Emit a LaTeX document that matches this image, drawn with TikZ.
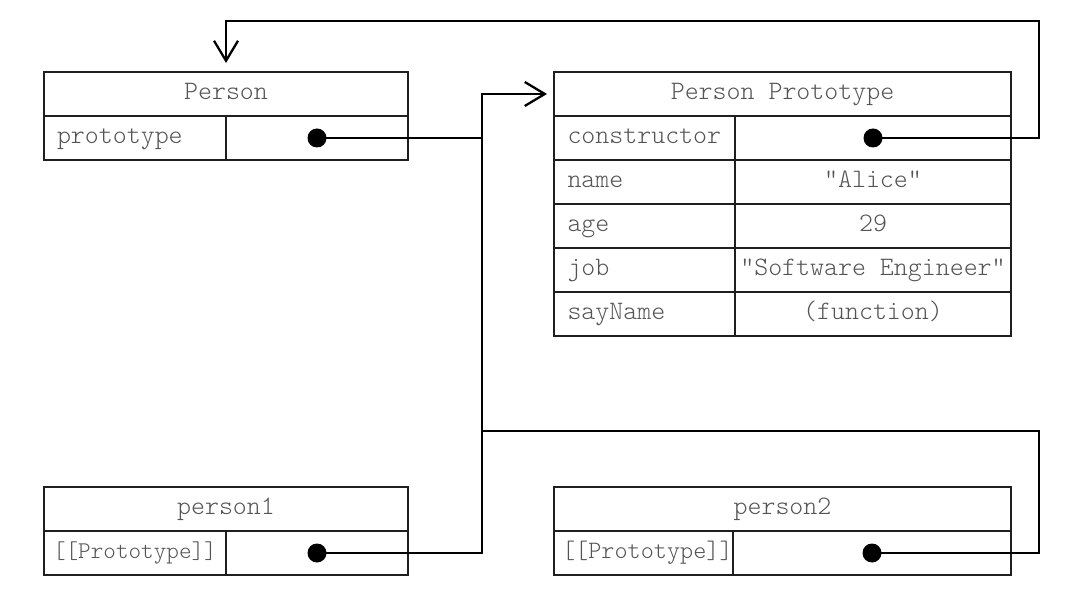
\documentclass[tikz,border=0pt]{standalone}
\usepackage{fontspec}
\newfontfamily\cellfont{Latin Modern Mono Light}
\usetikzlibrary{arrows.meta}
\definecolor{txt}{rgb}{0.33,0.33,0.33}
\definecolor{boxline}{rgb}{0.12,0.12,0.12}
\begin{document}
\begin{tikzpicture}[x=0.5pt,y=-0.5pt,
  cell/.style={draw=boxline, line width=0.65pt, minimum height=22pt, inner sep=0pt, outer sep=0pt,
    font=\cellfont\fontsize{13.3}{14}\selectfont, text=txt, text height=8pt, text depth=2.5pt},
  keycell/.style={cell, align=left, inner xsep=#1},
  smallkey/.style={font=\cellfont\fontsize{#1}{14}\selectfont},
  conn/.style={draw=black, line width=1.15pt, line join=miter},
  tip/.style={-{Straight Barb[length=10pt,width=12pt]}},
  dot/.style={fill=black}
]
\useasboundingbox (0,0) rectangle (1081,598);

% Person
\node[cell, minimum width=182pt] (ph) at (226,94) {Person};
\node[keycell=6.5pt, text width=78pt] (pk) at (135,138) {prototype};
\node[cell, minimum width=91pt] (pv) at (317,138) {};

% Person Prototype
\node[cell, minimum width=228.5pt] (prh) at (782.5,94) {Person Prototype};
\node[keycell=6.75pt, text width=77pt] (k1) at (644.5,138) {constructor};
\node[cell, minimum width=138pt] (cv) at (873,138) {};
\node[keycell=6.75pt, text width=77pt] (k2) at (644.5,182) {name};
\node[cell, minimum width=138pt] (v2) at (873,182) {"Alice"};
\node[keycell=6.75pt, text width=77pt] (k3) at (644.5,226) {age};
\node[cell, minimum width=138pt] (v3) at (873,226) {29};
\node[keycell=6.75pt, text width=77pt] (k4) at (644.5,270) {job};
\node[cell, minimum width=138pt] (v4) at (873,270) {"Software Engineer"};
\node[keycell=6.75pt, text width=77pt] (k5) at (644.5,314) {sayName};
\node[cell, minimum width=138pt] (v5) at (873,314) {(function)};

% person1
\node[cell, minimum width=182pt] (p1h) at (226,509) {person1};
\node[keycell=4.5pt, text width=82pt, smallkey=12] (p1k) at (135,553) {[[Prototype]]};
\node[cell, minimum width=91pt] (p1v) at (317,553) {};

% person2
\node[cell, minimum width=228.5pt] (p2h) at (782.5,509) {person2};
\node[keycell=4pt, text width=81.5pt, smallkey=12.5] (p2k) at (643.5,553) {[[Prototype]]};
\node[cell, minimum width=139pt] (p2v) at (872,553) {};

% helper coordinates
\coordinate (j) at (482,94);
\coordinate (tr) at (1039,21);
\coordinate (r2) at (1039,431);
\coordinate (h2) at (482,431);

% connectors
\draw[conn, tip, shorten >=3.5pt] (pv.center) -| (j) -- (prh.west);
\draw[conn] (p1v.center) -| (j);
\draw[conn, tip, shorten >=4.5pt] (cv.center) -| (tr) -- (ph.north |- tr) -- (ph.north);
\draw[conn] (p2v.center) -| (r2) -- (h2);

% dots
\fill[dot] (pv.center) circle (4.75pt);
\fill[dot] (cv.center) circle (4.75pt);
\fill[dot] (p1v.center) circle (4.75pt);
\fill[dot] (p2v.center) circle (4.75pt);
\end{tikzpicture}
\end{document}
